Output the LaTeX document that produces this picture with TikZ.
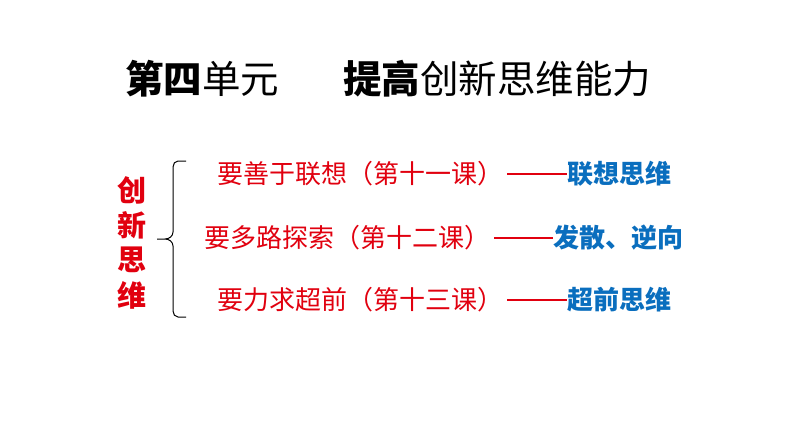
\documentclass[tikz,border=0pt]{standalone}
\usepackage{fontspec}
\setmainfont{Noto Sans CJK SC}
\definecolor{pptred}{RGB}{225,0,15}
\definecolor{pptblue}{RGB}{10,110,190}
\begin{document}
\begin{tikzpicture}[x=1pt,y=-1pt,
  titletext/.style={anchor=west,inner sep=0pt,font=\fontsize{38.5}{38}\selectfont},
  sidechar/.style={inner sep=0pt,text=pptred,font=\fontsize{29}{29}\selectfont\bfseries},
  rowtext/.style={anchor=west,inner sep=0pt,text=pptred,font=\fontsize{26}{26}\selectfont},
  dashline/.style={draw=pptred,line width=2.8pt},
  bluetext/.style={anchor=west,inner sep=0pt,text=pptblue,font=\fontsize{26}{26}\selectfont\bfseries},
  bracestyle/.style={draw=black,line width=1pt}]
\useasboundingbox[fill=white] (0,0) rectangle (794,447);
% title
\node[titletext] (t1) at (125,79) {\textbf{第四}单元};
\node[titletext] (t2) at (343,79) {\textbf{提高}创新思维能力};
% side text
\node[sidechar] (s1) at (132,190) {创};
\node[sidechar] (s2) at (132,225) {新};
\node[sidechar] (s3) at (132,260) {思};
\node[sidechar] (s4) at (132,295) {维};
% brace
\coordinate (bt) at (186,161);
\coordinate (bm) at (157,239);
\coordinate (bb) at (186,317);
\draw[bracestyle] (bt) -- (178,161) to[out=180,in=90] (173,167) -- (173,232)
  to[out=270,in=0] (165,239) -- (bm) -- (165,239) to[out=0,in=90] (173,246)
  -- (173,311) to[out=270,in=180] (178,317) -- (bb);
% rows
\node[rowtext] (r1) at (217,174) {要善于联想（第十一课）};
\node[bluetext] (b1) at (567,174) {联想思维};
\draw[dashline] ([xshift=4pt]r1.east) -- (b1.west);
\node[rowtext] (r2) at (204,238) {要多路探索（第十二课）};
\node[bluetext] (b2) at (553,238) {发散、逆向};
\draw[dashline] ([xshift=4pt]r2.east) -- (b2.west);
\node[rowtext] (r3) at (217,300) {要力求超前（第十三课）};
\node[bluetext] (b3) at (567,300) {超前思维};
\draw[dashline] ([xshift=4pt]r3.east) -- (b3.west);
\end{tikzpicture}
\end{document}
